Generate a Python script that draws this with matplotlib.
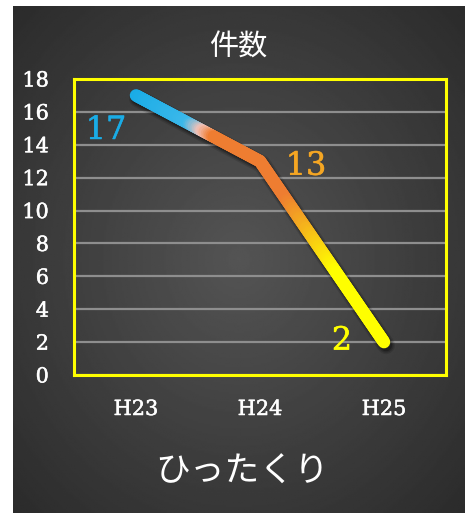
import numpy as np
import matplotlib
matplotlib.use("Agg")
import matplotlib.pyplot as plt
from matplotlib.collections import LineCollection
from matplotlib.colors import LinearSegmentedColormap
import matplotlib.transforms as mtransforms
import matplotlib.patheffects as pe

categories = ["H23", "H24", "H25"]
values = [17, 13, 2]
label_colors = ["#1AACE6", "#F5A623", "#FFFF00"]
title = "件数"
xlabel = "ひったくり"
yticks = list(range(0, 20, 2))

W, H = 468, 513
fig = plt.figure(figsize=(W / 100, H / 100), dpi=100)
fig.patch.set_facecolor("white")

# background panel with radial gradient
bg = fig.add_axes([13 / W, 0, (465 - 13) / W, (513 - 6) / H])
bg.set_axis_off()
yy, xx = np.mgrid[0:1:300j, 0:1:300j]
r = np.sqrt(((xx - 0.5) / 0.75) ** 2 + ((yy - 0.5) / 0.75) ** 2)
img = 0.33 - 0.17 * np.clip(r, 0, 1)
bg.imshow(img, cmap="gray", vmin=0, vmax=1, extent=[0, 1, 0, 1], aspect="auto")

ax = fig.add_axes([74 / W, (H - 375) / H, (446 - 74) / W, (375 - 79) / H])
ax.set_facecolor("none")
x = np.arange(len(categories))
ax.set_xlim(-0.5, len(categories) - 0.5)
ax.set_ylim(0, 18)
ax.set_yticks(yticks)
ax.set_xticks(x)
ax.set_xticklabels(categories)
for s in ax.spines.values():
    s.set_color("#FFFF00")
    s.set_linewidth(2.2)
ax.tick_params(length=0, colors="white")
ax.tick_params(axis="y", pad=18)
ax.tick_params(axis="x", pad=18)
for lab in ax.get_xticklabels() + ax.get_yticklabels():
    lab.set_fontfamily("DejaVu Serif")
    lab.set_fontsize(15)
    lab.set_path_effects([pe.withStroke(linewidth=0.35, foreground="white")])
ax.grid(axis="y", color="#8E8E8E", linewidth=1.6)
ax.set_axisbelow(True)

# gradient line
xs, ys = [], []
for i in range(len(values) - 1):
    t = np.linspace(0, 1, 150, endpoint=(i == len(values) - 2))
    xs.append(x[i] + (x[i + 1] - x[i]) * t)
    ys.append(values[i] + (values[i + 1] - values[i]) * t)
xs = np.concatenate(xs)
ys = np.concatenate(ys)
pts = np.column_stack([xs, ys]).reshape(-1, 1, 2)
segs = np.concatenate([pts[:-1], pts[1:]], axis=1)
vmid = (ys[:-1] + ys[1:]) / 2
cmap = LinearSegmentedColormap.from_list(
    "g",
    [(0.0, "#FFFF00"), (0.28, "#FFFF00"), (0.58, "#EE7D31"), (0.832, "#EE7D31"),
     (0.857, "#F2C2B8"), (0.888, "#3BB8EA"), (1.0, "#1AACE6")])
norm = plt.Normalize(min(values), max(values))

shadow_tr = ax.transData + mtransforms.ScaledTranslation(2 / 100, -3 / 100, fig.dpi_scale_trans)
for lw, a in [(13, 0.12), (11, 0.18), (9, 0.25)]:
    ax.plot(x, values, color="black", lw=lw, alpha=a, solid_capstyle="round",
            solid_joinstyle="round", transform=shadow_tr, zorder=3)
lc = LineCollection(segs, colors=cmap(norm(vmid)), linewidths=9, capstyle="round",
                    joinstyle="round", zorder=4)
ax.add_collection(lc)

offsets = [(-30, -35), (46, -5), (-42, 1)]
for xi, v, c, off in zip(x, values, label_colors, offsets):
    ax.annotate(str(v), (xi, v), xytext=off, textcoords="offset pixels",
                ha="center", va="center", color=c, fontsize=23,
                fontfamily="DejaVu Serif", zorder=5,
                path_effects=[pe.withStroke(linewidth=0.4, foreground=c)])

fig.text(238 / W, 1 - 48 / H, title, ha="center", va="center", color="white",
         fontsize=21, fontfamily=["Noto Sans CJK JP", "DejaVu Sans"])
fig.text(242 / W, 1 - 472 / H, xlabel, ha="center", va="center", color="white",
         fontsize=25, fontfamily=["Noto Sans CJK JP", "DejaVu Sans"])

fig.savefig("out.png", dpi=100)
